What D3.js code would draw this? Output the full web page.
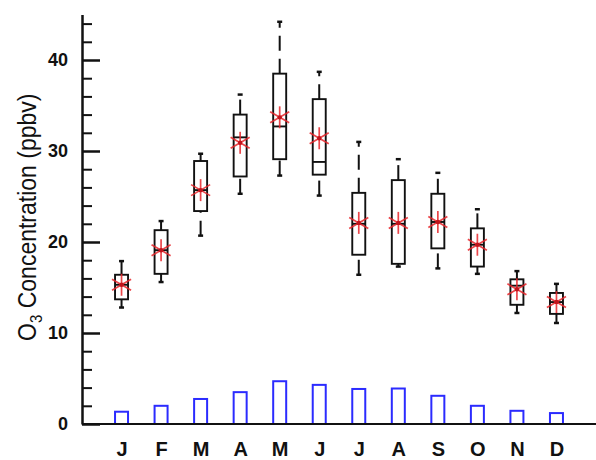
<!DOCTYPE html>
<html>
<head>
<meta charset="utf-8">
<script src="https://cdn.jsdelivr.net/npm/d3@7"></script>
<style>
  body { margin: 0; background: #fff; }
  svg { display: block; font-family: "Liberation Sans", Arial, sans-serif; }
</style>
</head>
<body>
<script>
// monthly O3 box stats (ppbv)
var months = ["J", "F", "M", "A", "M2", "J2", "J3", "A2", "S", "O", "N", "D"];
var monthLabels = ["J", "F", "M", "A", "M", "J", "J", "A", "S", "O", "N", "D"];
var whiskerLow  = [12.8, 15.6, 20.7, 25.3, 27.3, 25.1, 16.4, 17.3, 17.1, 16.5, 12.2, 11.1];
var q1          = [13.7, 16.5, 23.4, 27.2, 29.1, 27.4, 18.6, 17.6, 19.3, 17.3, 13.1, 12.1];
var medians     = [15.3, 19.1, 25.7, 31.5, 32.7, 28.8, 22.0, 22.0, 22.2, 19.7, 15.2, 13.4];
var q3          = [16.4, 21.3, 28.9, 34.0, 38.5, 35.7, 25.4, 26.8, 25.3, 21.5, 15.9, 14.4];
var whiskerHigh = [17.9, 22.3, 29.7, 36.2, 44.2, 38.7, 31.0, 29.1, 27.6, 23.6, 16.8, 15.4];
var means       = [15.3, 19.1, 25.7, 30.9, 33.7, 31.4, 22.1, 22.1, 22.2, 19.7, 14.8, 13.4];
var bars        = [1.35, 2.0, 2.75, 3.5, 4.7, 4.3, 3.85, 3.9, 3.1, 2.0, 1.45, 1.2];
var majorTicks = [0, 10, 20, 30, 40];
var minorTicks = d3.range(0, 46, 2);

var W = 596, H = 460;
var margin = {top: 14.5, right: 0, bottom: 36, left: 82};

var svg = d3.select("body").append("svg")
    .attr("width", W)
    .attr("height", H);

var x = d3.scalePoint().domain(months).range([margin.left, W - margin.right]).padding(1);
var y = d3.scaleLinear().domain([0, 45]).range([H - margin.bottom, margin.top]);

var data = months.map(function(m, i) {
  return {m: m, lo: whiskerLow[i], q1: q1[i], med: medians[i], q3: q3[i], hi: whiskerHigh[i], mean: means[i], bar: bars[i]};
});

var bw = 13;

// blue bars
svg.append("g").selectAll("rect").data(data).enter().append("rect")
  .attr("x", function(d) { return x(d.m) - bw / 2; })
  .attr("y", function(d) { return y(d.bar); })
  .attr("width", bw)
  .attr("height", function(d) { return y(0) - y(d.bar); })
  .attr("fill", "none")
  .attr("stroke", "#2b2bff")
  .attr("stroke-width", 2);

var box = svg.append("g").selectAll("g").data(data).enter().append("g");

// whiskers, dashed, drawn bottom to top
box.append("line")
  .attr("x1", function(d) { return x(d.m); })
  .attr("x2", function(d) { return x(d.m); })
  .attr("y1", function(d) { return y(d.lo); })
  .attr("y2", function(d) { return y(d.q1); })
  .attr("stroke", "#111").attr("stroke-width", 2)
  .attr("stroke-dasharray", "15,8");
box.append("line")
  .attr("x1", function(d) { return x(d.m); })
  .attr("x2", function(d) { return x(d.m); })
  .attr("y1", function(d) { return y(d.q3); })
  .attr("y2", function(d) { return y(d.hi); })
  .attr("stroke", "#111").attr("stroke-width", 2)
  .attr("stroke-dasharray", "15,8");
// caps
["lo", "hi"].forEach(function(k) {
  box.append("line")
    .attr("x1", function(d) { return x(d.m) - 2.5; })
    .attr("x2", function(d) { return x(d.m) + 2.5; })
    .attr("y1", function(d) { return y(d[k]); })
    .attr("y2", function(d) { return y(d[k]); })
    .attr("stroke", "#111").attr("stroke-width", 2.5);
});

box.append("rect")
  .attr("x", function(d) { return x(d.m) - bw / 2; })
  .attr("y", function(d) { return y(d.q3); })
  .attr("width", bw)
  .attr("height", function(d) { return y(d.q1) - y(d.q3); })
  .attr("fill", "#fff")
  .attr("stroke", "#111")
  .attr("stroke-width", 1.9);

box.append("line")
  .attr("x1", function(d) { return x(d.m) - bw / 2; })
  .attr("x2", function(d) { return x(d.m) + bw / 2; })
  .attr("y1", function(d) { return y(d.med); })
  .attr("y2", function(d) { return y(d.med); })
  .attr("stroke", "#111").attr("stroke-width", 1.9);

// red asterisk for mean
var r = 11;
[90, 30, -30].forEach(function(a) {
  var dx = r * Math.cos(a * Math.PI / 180), dy = r * Math.sin(a * Math.PI / 180);
  box.append("line")
    .attr("x1", function(d) { return x(d.m) - dx; })
    .attr("x2", function(d) { return x(d.m) + dx; })
    .attr("y1", function(d) { return y(d.mean) - dy; })
    .attr("y2", function(d) { return y(d.mean) + dy; })
    .attr("stroke", "#e8262b").attr("stroke-width", 1.7).attr("opacity", 0.85);
});
box.append("circle")
  .attr("cx", function(d) { return x(d.m); })
  .attr("cy", function(d) { return y(d.mean); })
  .attr("r", 2.2)
  .attr("fill", "#c0141c");

// y axis
var yAxis = svg.append("g")
  .attr("transform", "translate(" + margin.left + ",0)")
  .call(d3.axisLeft(y).tickValues(majorTicks).tickSize(-18).tickSizeOuter(0).tickPadding(14));
yAxis.select(".domain").attr("stroke-width", 2.5).attr("stroke", "#111");
yAxis.selectAll(".tick line").attr("stroke-width", 2.5).attr("stroke", "#111");
yAxis.selectAll(".tick text")
  .attr("font-size", 18).attr("font-weight", "bold").attr("fill", "#111")
  .attr("font-family", "Liberation Sans, Arial, sans-serif");

var yMinor = svg.append("g")
  .attr("transform", "translate(" + margin.left + ",0)")
  .call(d3.axisLeft(y).tickValues(minorTicks.filter(function(v) { return v % 10 !== 0; }))
    .tickSize(-10).tickSizeOuter(0).tickFormat(""));
yMinor.select(".domain").remove();
yMinor.selectAll(".tick line").attr("stroke-width", 2).attr("stroke", "#111");

// x axis
svg.append("line")
  .attr("x1", margin.left).attr("x2", W)
  .attr("y1", y(0)).attr("y2", y(0))
  .attr("stroke", "#111").attr("stroke-width", 2.2);

var xAxis = svg.append("g")
  .attr("transform", "translate(0," + y(0) + ")")
  .call(d3.axisBottom(x).tickSize(0).tickPadding(18).tickFormat(function(d, i) { return monthLabels[i]; }));
xAxis.select(".domain").remove();
xAxis.selectAll(".tick text")
  .attr("font-size", 20).attr("font-weight", "bold").attr("fill", "#111")
  .attr("font-family", "Liberation Sans, Arial, sans-serif");

// y label
var lab = svg.append("text")
  .attr("transform", "translate(36," + ((y(0) + y(45)) / 2 - 2) + ") scale(1.12,1) rotate(-90)")
  .attr("text-anchor", "middle")
  .attr("font-size", 23)
  .attr("fill", "#111");
lab.append("tspan").text("O");
lab.append("tspan").attr("font-size", 15).attr("dy", 5).text("3");
lab.append("tspan").attr("dy", -5).text(" Concentration (ppbv)");
</script>
</body>
</html>
